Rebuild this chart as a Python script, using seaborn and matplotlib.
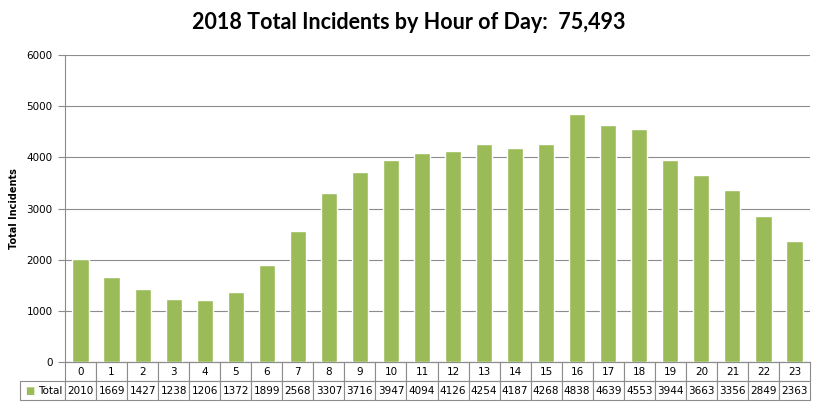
import matplotlib
matplotlib.use('Agg')
import matplotlib.pyplot as plt
import seaborn as sns
import pandas as pd

hours = [str(h) for h in range(24)]
totals = [2010, 1669, 1427, 1238, 1206, 1372, 1899, 2568, 3307, 3716, 3947, 4094,
          4126, 4254, 4187, 4268, 4838, 4639, 4553, 3944, 3663, 3356, 2849, 2363]
title = '2018 Total Incidents by Hour of Day:  75,493'
y_ticks = [0, 1000, 2000, 3000, 4000, 5000, 6000]

GREEN = '#9BBB59'
GRID = '#8C8C8C'

df = pd.DataFrame({'hour': hours, 'total': totals})

sns.set_style('white')
plt.rcParams['font.family'] = ['DejaVu Sans']

fig = plt.figure(figsize=(8.18, 4.11), dpi=100)
W, H = 818, 411
ax = fig.add_axes([65 / W, (H - 362) / H, 745 / W, 307 / H])

sns.barplot(data=df, x='hour', y='total', color=GREEN, width=0.52,
            saturation=1, ax=ax, zorder=3)
ax.set_ylim(0, 6000)
ax.set_yticks(y_ticks)
ax.set_yticklabels([str(t) for t in y_ticks], fontsize=7.5, color='black')
ax.yaxis.grid(True, color=GRID, lw=0.8, zorder=0)
ax.set_xticks([])
ax.set_xlabel('')
ax.set_ylabel('Total Incidents', fontsize=7, fontweight='bold', labelpad=5, color='black')
ax.tick_params(axis='y', length=5, width=0.8, color=GRID, direction='out', left=True, pad=4)
for s in ['top', 'right']:
    ax.spines[s].set_visible(False)
for s in ['left', 'bottom']:
    ax.spines[s].set_color(GRID)
    ax.spines[s].set_linewidth(0.8)

# data table below the axes (first column holds the legend key)
lab_w = 45 / 745
col_w = 1 / 24
tbl = ax.table(cellText=[[''] + hours, [''] + [str(v) for v in totals]],
               cellLoc='center',
               colWidths=[lab_w] + [col_w] * 24,
               bbox=[-lab_w, -38 / 307, 1 + lab_w, 38 / 307])
tbl.auto_set_font_size(False)
for (r, c), cell in tbl.get_celld().items():
    cell.set_edgecolor(GRID)
    cell.set_linewidth(0.8)
    cell.get_text().set_fontsize(7.5)
    cell.get_text().set_color('black')
    if r == 0 and c == 0:
        cell.visible_edges = ''
ax.text(-lab_w + 5 / 745, -28.5 / 307, '■', transform=ax.transAxes, color=GREEN,
        fontsize=7, ha='left', va='center')
ax.text(-3 / 745, -28.5 / 307, 'Total', transform=ax.transAxes,
        fontsize=7.5, ha='right', va='center', color='black')

fig.suptitle(title, fontsize=15.5, fontweight='bold', family='Lato', y=0.97,
             color='black')

plt.savefig('out.png', dpi=100)
plt.close()
